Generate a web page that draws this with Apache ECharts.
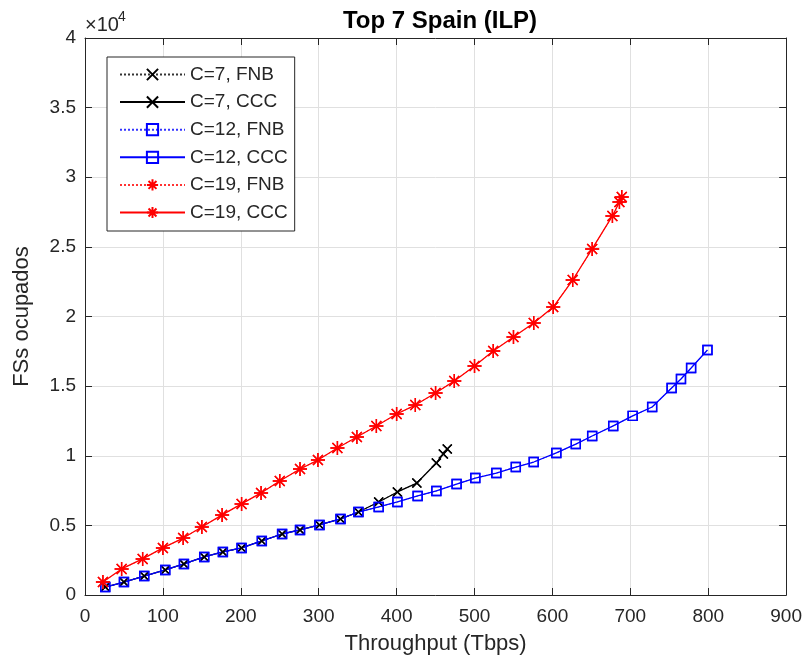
<!DOCTYPE html>
<html>
<head>
<meta charset="utf-8">
<script src="https://cdn.jsdelivr.net/npm/echarts@6/dist/echarts.min.js"></script>
<style>
  html, body { margin: 0; padding: 0; background: #fff; }
  #chart { width: 805px; height: 668px; }
</style>
</head>
<body>
<div id="chart"></div>
<script>
// values (x in Tbps, y in FSs)
const c7X = [26, 50, 76, 103, 127, 153, 177, 201, 227, 253, 276, 301, 328, 351, 377, 401, 426, 451, 460, 465];
const c7Y = [570, 930, 1360, 1800, 2230, 2730, 3090, 3380, 3880, 4380, 4670, 5030, 5460, 5960, 6680, 7400, 8040, 9480, 10130, 10480];

const c12X = [26, 50, 76, 103, 127, 153, 177, 201, 227, 253, 276, 301, 328, 351, 377, 401, 427, 451, 477, 501, 528, 553, 576, 605, 630, 651, 678, 703, 728, 753, 765, 778, 799];
const c12Y = [570, 930, 1360, 1800, 2230, 2730, 3090, 3380, 3880, 4380, 4670, 5030, 5460, 5960, 6320, 6680, 7110, 7470, 7970, 8400, 8760, 9190, 9550, 10200, 10840, 11420, 12140, 12860, 13500, 14870, 15510, 16300, 17590];

const c19X = [23, 47, 74, 100, 126, 150, 176, 201, 226, 250, 276, 299, 324, 349, 374, 400, 424, 450, 474, 500, 524, 550, 576, 601, 626, 651, 677, 686, 689];
const c19Y = [930, 1870, 2590, 3380, 4090, 4880, 5750, 6540, 7330, 8190, 9050, 9690, 10560, 11350, 12140, 13000, 13640, 14510, 15370, 16440, 17520, 18530, 19530, 20680, 22620, 24850, 27220, 28220, 28580];

const xTicks = [0, 100, 200, 300, 400, 500, 600, 700, 800, 900];
const yTicks = [0, 0.5, 1, 1.5, 2, 2.5, 3, 3.5, 4]; // x 10^4

const FONT = 'Liberation Sans, Arial, Helvetica, sans-serif';
const AX = '#262626';
const GRIDC = '#e0e0e0';

const SYM_X = 'path://M0,0L10,10M10,0L0,10';
const SYM_SQ = 'path://M0,0L10,0L10,10L0,10Z';
const SYM_AST = 'path://M5,0L5,10M0,5L10,5M1.46,1.46L8.54,8.54M8.54,1.46L1.46,8.54';

function pts(xs, ys) {
  return xs.map((x, i) => [x, ys[i]]);
}

function mkSeries(name, xs, ys, color, symbol, size, dotted) {
  return {
    name: name,
    type: 'line',
    data: pts(xs, ys),
    symbol: symbol,
    symbolSize: size,
    showAllSymbol: true,
    lineStyle: {color: color, width: dotted ? 1 : 1.3, type: dotted ? [2, 2] : 'solid', opacity: dotted ? 0.8 : 1},
    itemStyle: {color: 'rgba(0,0,0,0)', borderColor: color, borderWidth: 1.4},
    emphasis: {disabled: true},
    z: 3
  };
}

const chart = echarts.init(document.getElementById('chart'), null, {renderer: 'canvas'});

const option = {
  animation: false,
  backgroundColor: '#fff',
  title: {
    text: 'Top 7 Spain (ILP)',
    left: 435,
    textAlign: 'center',
    top: 4,
    textStyle: {fontFamily: FONT, fontSize: 24, fontWeight: 'bold', color: '#000'}
  },
  grid: {left: 85, right: 18, top: 38, bottom: 73, containLabel: false},
  legend: {
    orient: 'vertical',
    left: 107,
    top: 57,
    padding: [8, 7, 9, 12],
    itemWidth: 65,
    itemHeight: 14,
    itemGap: 8.6,
    backgroundColor: '#fff',
    borderColor: AX,
    borderWidth: 1,
    borderRadius: 0,
    textStyle: {fontFamily: FONT, fontSize: 19, color: AX},
    data: ['C=7, FNB', 'C=7, CCC', 'C=12, FNB', 'C=12, CCC', 'C=19, FNB', 'C=19, CCC']
  },
  graphic: [
    {type: 'text', left: 85, top: 15, style: {text: '\u00d710', fontFamily: FONT, fontSize: 20, fill: AX}},
    {type: 'text', left: 118, top: 10, style: {text: '4', fontFamily: FONT, fontSize: 14, fill: AX}}
  ],
  xAxis: [
    {
      type: 'value', min: 0, max: 900, interval: 100,
      name: 'Throughput (Tbps)', nameLocation: 'middle', nameGap: 38,
      nameTextStyle: {fontFamily: FONT, fontSize: 22, color: AX},
      axisLine: {onZero: false, lineStyle: {color: AX, width: 1}},
      axisTick: {inside: true, length: 7, lineStyle: {color: AX}},
      axisLabel: {fontFamily: FONT, fontSize: 19, color: AX, margin: 12,
        formatter: v => xTicks.includes(v) ? String(v) : ''},
      splitLine: {show: true, lineStyle: {color: GRIDC, width: 1}}
    },
    {
      type: 'value', min: 0, max: 900, interval: 100, position: 'top',
      axisLine: {onZero: false, lineStyle: {color: AX, width: 1}},
      axisTick: {inside: true, length: 7, lineStyle: {color: AX}},
      axisLabel: {show: false},
      splitLine: {show: false}
    }
  ],
  yAxis: [
    {
      type: 'value', min: 0, max: 40000, interval: 5000,
      name: 'FSs ocupados', nameLocation: 'middle', nameGap: 52, nameRotate: 90,
      nameTextStyle: {fontFamily: FONT, fontSize: 22, color: AX},
      axisLine: {show: true, onZero: false, lineStyle: {color: AX, width: 1}},
      axisTick: {show: true, inside: true, length: 7, lineStyle: {color: AX}},
      axisLabel: {fontFamily: FONT, fontSize: 19, color: AX, margin: 9,
        formatter: v => String(yTicks[Math.round(v / 5000)])},
      splitLine: {show: true, lineStyle: {color: GRIDC, width: 1}}
    },
    {
      type: 'value', min: 0, max: 40000, interval: 5000, position: 'right',
      axisLine: {show: true, onZero: false, lineStyle: {color: AX, width: 1}},
      axisTick: {show: true, inside: true, length: 7, lineStyle: {color: AX}},
      axisLabel: {show: false},
      splitLine: {show: false}
    }
  ],
  series: [
    mkSeries('C=7, FNB', c7X, c7Y, '#000000', SYM_X, 9, true),
    mkSeries('C=7, CCC', c7X, c7Y, '#000000', SYM_X, 9, false),
    mkSeries('C=12, FNB', c12X, c12Y, '#0000ff', SYM_SQ, 9, true),
    mkSeries('C=12, CCC', c12X, c12Y, '#0000ff', SYM_SQ, 9, false),
    mkSeries('C=19, FNB', c19X, c19Y, '#ff0000', SYM_AST, 14, true),
    mkSeries('C=19, CCC', c19X, c19Y, '#ff0000', SYM_AST, 14, false)
  ]
};

chart.setOption(option);
</script>
</body>
</html>
